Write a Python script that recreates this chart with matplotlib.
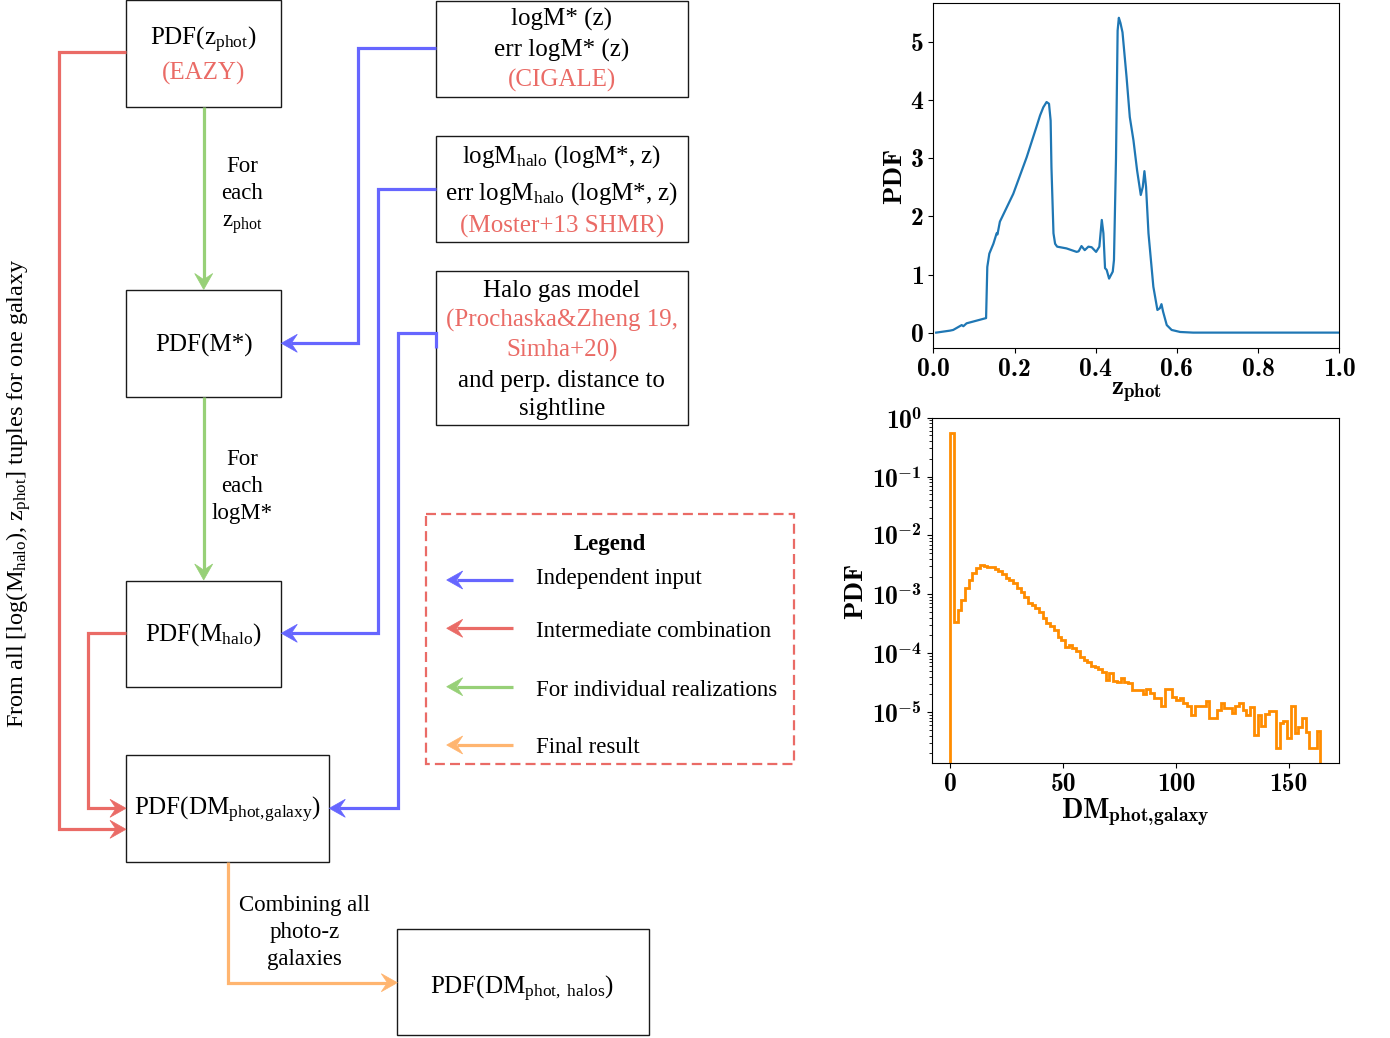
import matplotlib
matplotlib.use("Agg")
import matplotlib.pyplot as plt
import numpy as np
from matplotlib.patches import Rectangle, Polygon
from matplotlib.ticker import NullFormatter, LogLocator

plt.rcParams["font.family"] = ["Liberation Serif", "DejaVu Serif"]
plt.rcParams["mathtext.fontset"] = "cm"
# "custom" math family: Liberation Serif for flowchart subscripts, cmb10 for bold plot labels
plt.rcParams["mathtext.rm"] = "Liberation Serif"
plt.rcParams["mathtext.it"] = "Liberation Serif:italic"
plt.rcParams["mathtext.bf"] = "cmb10"

# photo-z PDF (top right panel)
z_phot = [0.007, 0.041, 0.049, 0.070, 0.074, 0.082, 0.130, 0.133, 0.138, 0.148,
          0.156, 0.158, 0.164, 0.197, 0.230, 0.254, 0.263, 0.271, 0.279, 0.285,
          0.289, 0.291, 0.296, 0.300, 0.305, 0.328, 0.353, 0.358, 0.365, 0.373,
          0.382, 0.390, 0.401, 0.409, 0.415, 0.419, 0.423, 0.427, 0.433, 0.442,
          0.445, 0.450, 0.454, 0.457, 0.461, 0.466, 0.476, 0.484, 0.493, 0.502,
          0.511, 0.516, 0.520, 0.524, 0.530, 0.542, 0.552, 0.558, 0.562, 0.566,
          0.575, 0.587, 0.608, 0.640, 1.0]
pdf_z = [0.0, 0.034, 0.046, 0.13, 0.11, 0.16, 0.25, 1.13, 1.36, 1.53,
         1.71, 1.69, 1.91, 2.39, 3.02, 3.54, 3.74, 3.88, 3.97, 3.94,
         3.65, 2.85, 1.71, 1.53, 1.48, 1.45, 1.39, 1.40, 1.49, 1.42,
         1.48, 1.47, 1.39, 1.48, 1.94, 1.71, 1.11, 1.08, 0.93, 1.05,
         1.25, 3.0, 5.2, 5.42, 5.33, 5.17, 4.40, 3.71, 3.31, 2.79,
         2.37, 2.51, 2.78, 2.51, 1.71, 0.79, 0.39, 0.42, 0.49, 0.36,
         0.13, 0.046, 0.011, 0.0, 0.0]
z_ticks = [0.0, 0.2, 0.4, 0.6, 0.8, 1.0]
pdf_ticks = [0, 1, 2, 3, 4, 5]

# DM_phot,galaxy histogram (bottom right panel), log10 of PDF per bin
dm_max = 164.0
dm_log_pdf = [-0.26, -3.475, -3.265, -3.095, -2.885, -2.755, -2.63, -2.545, -2.51, -2.515,
              -2.53, -2.535, -2.57, -2.60, -2.66, -2.715, -2.755, -2.81, -2.885, -2.955,
              -3.04, -3.15, -3.18, -3.235, -3.295, -3.405, -3.49, -3.53, -3.605, -3.72,
              -3.775, -3.89, -3.86, -3.92, -3.96, -4.06, -4.115, -4.145, -4.21, -4.23,
              -4.27, -4.315, -4.455, -4.34, -4.47, -4.485, -4.415, -4.485, -4.50, -4.626,
              -4.626, -4.626, -4.694, -4.615, -4.683, -4.768, -4.768, -4.898, -4.615, -4.615,
              -4.74, -4.796, -4.768, -4.853, -4.898, -5.051, -4.898, -4.898, -4.898, -4.807,
              -5.108, -5.108, -4.966, -4.853, -4.938, -4.938, -5.023, -4.898, -4.841, -4.966,
              -5.051, -4.909, -5.391, -5.051, -5.238, -5.034, -4.977, -4.977, -5.618, -5.181,
              -5.147, -5.448, -4.898, -5.351, -5.261, -5.108, -5.335, -5.618, -5.618, -5.317]
dm_ticks = [0, 50, 100, 150]
dm_decades = [0, -1, -2, -3, -4, -5]

# flowchart colours
c_blue = "#6666ff"
c_red = "#ea6b66"
c_green = "#97d077"
c_orange = "#ffb570"
c_edge = "#1a1a1a"

fig = plt.figure(figsize=(13.9, 10.38), dpi=100)
ax = fig.add_axes([0, 0, 1, 1])
ax.set_xlim(0, 1390)
ax.set_ylim(1038, 0)
ax.axis("off")

LW = 2.3


def box(x0, y0, x1, y1):
    ax.add_patch(Rectangle((x0, y0), x1 - x0, y1 - y0, fill=False,
                           ec=c_edge, lw=1.0))


def arrow_head(tip, prev, color, L=16, W=18):
    tip = np.array(tip, float)
    d = tip - np.array(prev, float)
    d /= np.hypot(*d)
    p = np.array([-d[1], d[0]])
    back = tip - d * L
    notch = tip - d * L * 0.62
    pts = [tip, back + p * W / 2, notch, back - p * W / 2]
    ax.add_patch(Polygon(pts, closed=True, fc=color, ec=color, lw=0.5))
    return notch


def connector(points, color):
    pts = [np.array(p, float) for p in points]
    pts[-1] = arrow_head(pts[-1], pts[-2], color)
    ax.plot([p[0] for p in pts], [p[1] for p in pts], color=color, lw=LW,
            solid_joinstyle="miter", solid_capstyle="butt")


def label(x, y, s, size=18, color="black", ha="center", weight="normal", **kw):
    ax.text(x, y, s, ha=ha, va="baseline", fontsize=size, color=color,
            fontweight=weight, math_fontfamily="custom", **kw)


# boxes
box(126, 0, 281.3, 106.7)
box(126, 290.3, 281.3, 396.7)
box(126, 580.7, 281.3, 687)
box(126, 754.7, 329.3, 861.7)
box(397.3, 929, 649, 1035.3)
box(435.7, 0.5, 687.7, 96.7)
box(435.7, 135.5, 687.7, 241.7)
box(435.7, 270.7, 687.7, 425.3)

# box texts
label(203.7, 45, r"PDF(z$_{\mathrm{phot}}$)")
label(203.7, 80, "(EAZY)", color=c_red)
label(203.7, 351.5, "PDF(M*)")
label(203.7, 641, r"PDF(M$_{\mathrm{halo}}$)")
label(227.7, 815, r"PDF(DM$_{\mathrm{phot,\!galaxy}}$)")
label(522, 994, r"PDF(DM$_{\mathrm{phot,\ halos}}$)")

label(561.7, 26, "logM* (z)")
label(561.7, 56.5, "err logM* (z)")
label(561.7, 87, "(CIGALE)", color=c_red)
label(561.7, 162.7, r"logM$_{\mathrm{halo}}$ (logM*, z)")
label(561.7, 199.3, r"err logM$_{\mathrm{halo}}$ (logM*, z)")
label(561.7, 233, "(Moster+13 SHMR)", color=c_red)
label(561.7, 296.7, "Halo gas model")
label(561.7, 326.7, "(Prochaska&Zheng 19,", color=c_red)
label(561.7, 356.7, "Simha+20)", color=c_red)
label(561.7, 386.7, "and perp. distance to")
label(561.7, 415.5, "sightline")

# connectors
connector([(203.7, 106.7), (203.7, 289.5)], c_green)
connector([(203.7, 396.7), (203.7, 580)], c_green)
connector([(126, 52.3), (58.7, 52.3), (58.7, 829.3), (126, 829.3)], c_red)
connector([(126, 633.3), (87.7, 633.3), (87.7, 808.3), (126, 808.3)], c_red)
connector([(435.7, 48.3), (358.3, 48.3), (358.3, 343.3), (281.3, 343.3)], c_blue)
connector([(435.7, 189), (377.7, 189), (377.7, 633.3), (281.3, 633.3)], c_blue)
connector([(435.7, 348.3), (435.7, 333.3), (397.7, 333.3), (397.7, 808.3),
           (329.3, 808.3)], c_blue)
connector([(228.3, 861.7), (228.3, 982.7), (397.3, 982.7)], c_orange)

# side annotations
label(242, 172.3, "For", size=16.5)
label(242, 199, "each", size=16.5)
label(242, 226.7, r"z$_{\mathrm{phot}}$", size=16.5)
label(242, 465, "For", size=16.5)
label(242, 492, "each", size=16.5)
label(242, 519, "logM*", size=16.5)
label(304.5, 910.7, "Combining all", size=16.5)
label(304.5, 938.3, "photo-z", size=16.5)
label(304.5, 965, "galaxies", size=16.5)
ax.text(19, 493, r"From all [log(M$_{\mathrm{halo}}$), z$_{\mathrm{phot}}$] tuples for one galaxy",
        rotation=90, ha="center", va="center", fontsize=17.5,
        math_fontfamily="custom")

# legend
ax.add_patch(Rectangle((426, 514), 368, 250.3, fill=False, ec=c_red,
                       lw=1.6, ls=(0, (4.5, 2.3))))
label(609.3, 550, "Legend", size=16.5, weight="bold")
legend_items = [("Independent input", c_blue, 580, 584),
                ("Intermediate combination", c_red, 628.3, 637.3),
                ("For individual realizations", c_green, 686.7, 695.7),
                ("Final result", c_orange, 745, 753.3)]
for text, col, ya, yb in legend_items:
    connector([(513.3, ya), (446.7, ya)], col)
    label(536, yb, text, size=16.5, ha="left")

# right-hand panels
TICK_FS = 18.5
LABEL_FS = 19.5
ax_z = fig.add_axes([933.3 / 1390, 1 - 348.3 / 1038,
                     (1339.3 - 933.3) / 1390, (348.3 - 2.7) / 1038])
ax_z.plot(z_phot, pdf_z, color="#1f77b4", lw=1.6)
ax_z.set_xlim(0, 1.0)
ax_z.set_ylim(-0.27, 5.68)
ax_z.set_xticks(z_ticks, ["%.1f" % v for v in z_ticks],
                fontfamily="cmb10", fontsize=TICK_FS)
ax_z.set_yticks(pdf_ticks, ["%d" % v for v in pdf_ticks],
                fontfamily="cmb10", fontsize=TICK_FS)
ax_z.set_xlabel(r"z$_{\mathbf{phot}}$", fontsize=LABEL_FS, labelpad=0,
                fontfamily="cmb10", math_fontfamily="custom")
ax_z.set_ylabel("PDF", fontsize=LABEL_FS, fontfamily="cmb10", labelpad=3)

ax_dm = fig.add_axes([931.7 / 1390, 1 - 763.3 / 1038,
                      (1339 - 931.7) / 1390, (763.3 - 417.7) / 1038])
dm_edges = np.linspace(0, dm_max, len(dm_log_pdf) + 1)
dm_pdf = 10 ** np.array(dm_log_pdf)
ax_dm.stairs(dm_pdf, dm_edges, baseline=1e-9, color="darkorange", lw=2.0)
ax_dm.set_yscale("log")
ax_dm.set_xlim(-8.2, 172.2)
ax_dm.set_ylim(10 ** -5.87, 1.0)
ax_dm.set_xticks(dm_ticks, ["%d" % v for v in dm_ticks],
                 fontfamily="cmb10", fontsize=TICK_FS)
ax_dm.set_yticks([10.0 ** k for k in dm_decades],
                 [r"10$^{\mathbf{%d}}$" % k for k in dm_decades],
                 fontfamily="cmb10", fontsize=TICK_FS, math_fontfamily="custom")
ax_dm.yaxis.set_minor_locator(LogLocator(base=10, subs=np.arange(2, 10)))
ax_dm.yaxis.set_minor_formatter(NullFormatter())
ax_dm.set_xlabel(r"DM$_{\mathbf{phot,\!galaxy}}$", fontsize=20, labelpad=0,
                 fontfamily="cmb10", math_fontfamily="custom")
ax_dm.set_ylabel("PDF", fontsize=LABEL_FS, fontfamily="cmb10", labelpad=3)

fig.savefig("out.png", dpi=100)
